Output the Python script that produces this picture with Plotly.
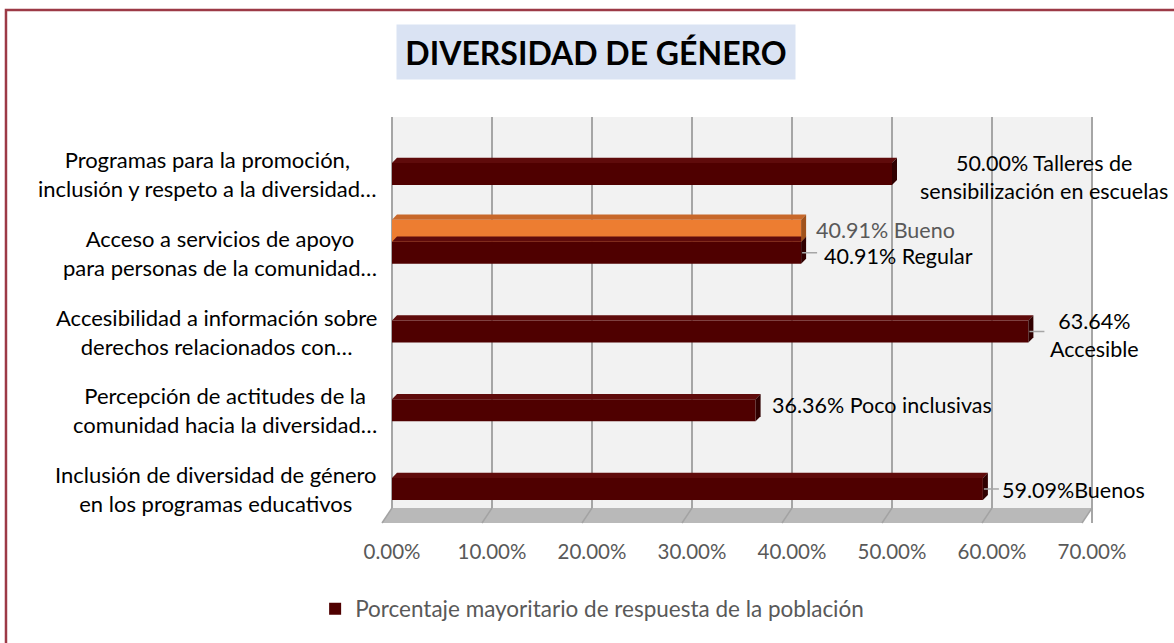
import plotly.graph_objects as go

# categories listed from top to bottom as drawn
categories = [
    "Programas para la promoción,<br>inclusión y respeto a la diversidad…",
    "Acceso a servicios de apoyo<br>para personas de la comunidad…",
    "Accesibilidad a información sobre<br>derechos relacionados con…",
    "Percepción de actitudes de la<br>comunidad hacia la diversidad…",
    "Inclusión de diversidad de género<br>en los programas educativos",
]
values = [50.00, 40.91, 63.64, 36.36, 59.09]
data_labels = [
    "50.00% Talleres de<br>sensibilización en escuelas",
    "40.91% Regular",
    "63.64%<br>Accesible",
    "36.36% Poco inclusivas",
    "59.09%Buenos",
]
series_name = "Porcentaje mayoritario de respuesta de la población"

# second (unnamed) value shown on the "Acceso a servicios" row
extra_category = 1
extra_value = 40.91
extra_label = "40.91% Bueno"

x_ticks = [0, 10, 20, 30, 40, 50, 60, 70]
x_tick_text = ["0.00%", "10.00%", "20.00%", "30.00%", "40.00%",
               "50.00%", "60.00%", "70.00%"]

# style / position helpers (pixels)
label_shift = [(26, -3), (21, -3), (20, -3), (14, 5), (17, -1)]
label_leader = [False, True, True, False, True]
label_align = ["center", "left", "center", "left", "left"]

FONT = "Lato, 'Open Sans', sans-serif"
DARK = "#4f0000"
DARK_TOP = "#5f0b0b"
DARK_SIDE = "#300000"
ORANGE = "#ed7d31"
ORANGE_TOP = "#c8682a"
ORANGE_SIDE = "#a0521c"

BAR_W = 0.28
DX = 0.5     # depth in x data units
DY = 0.065   # depth in y data units
FLOOR_H = 0.037

y_pos = list(range(len(categories)))

fig = go.Figure()


def add_3d_bar(fig, xs, ys, offset, front, top, side, name, showlegend):
    fig.add_trace(go.Bar(
        x=xs, y=ys, orientation="h", width=BAR_W, offset=offset,
        marker=dict(color=front, line=dict(width=0)),
        name=name, showlegend=showlegend, hoverinfo="skip",
    ))
    for v, c in zip(xs, ys):
        y_top = c + offset
        y_bot = c + offset + BAR_W
        fig.add_trace(go.Scatter(
            x=[0, v, v + DX, DX, 0],
            y=[y_top, y_top, y_top - DY, y_top - DY, y_top],
            fill="toself", fillcolor=top, mode="lines",
            line=dict(width=0, color=top), showlegend=False, hoverinfo="skip",
        ))
        fig.add_trace(go.Scatter(
            x=[v, v + DX, v + DX, v, v],
            y=[y_top, y_top - DY, y_bot - DY, y_bot, y_top],
            fill="toself", fillcolor=side, mode="lines",
            line=dict(width=0, color=side), showlegend=False, hoverinfo="skip",
        ))


add_3d_bar(fig, values, y_pos, -BAR_W / 2, DARK, DARK_TOP, DARK_SIDE,
           series_name, True)
add_3d_bar(fig, [extra_value], [y_pos[extra_category]], -BAR_W * 1.5,
           ORANGE, ORANGE_TOP, ORANGE_SIDE, "", False)

shapes = []
# back wall
shapes.append(dict(type="rect", xref="x", yref="y domain", x0=0, x1=70,
                   y0=FLOOR_H, y1=1, fillcolor="#f2f2f2", line_width=0,
                   layer="below"))
# floor
shapes.append(dict(type="path", xref="x", yref="y domain",
                   path=f"M 0,{FLOOR_H} L 70,{FLOOR_H} L 69,0 L -1,0 Z",
                   fillcolor="#b9b9b9", line=dict(width=0), layer="above"))
for t in x_ticks:
    shapes.append(dict(type="line", xref="x", yref="y domain",
                       x0=t, x1=t - 1, y0=FLOOR_H, y1=0,
                       line=dict(color="#a3a3a3", width=1.5), layer="above"))

annotations = []
# category labels
for cat, c in zip(categories, y_pos):
    annotations.append(dict(
        text=cat, xref="paper", yref="y", x=0, y=c, xanchor="right",
        yanchor="middle", align="center", showarrow=False, xshift=-1,
        font=dict(family=FONT, size=22, color="#000000"),
    ))
# data labels
for v, c, lab, (sx, sy), lead, al in zip(values, y_pos, data_labels,
                                          label_shift, label_leader, label_align):
    annotations.append(dict(
        text=lab, xref="x", yref="y", x=v, y=c, xanchor="left",
        yanchor="middle", align=al, showarrow=False, xshift=sx, yshift=sy,
        font=dict(family=FONT, size=21.5, color="#000000"),
    ))
    if lead:
        shapes.append(dict(type="line", xref="x", yref="y", x0=v + 0.1,
                           x1=v + 1.6, y0=c, y1=c,
                           line=dict(color="#a6a6a6", width=1.5)))
annotations.append(dict(
    text=extra_label, xref="x", yref="y", x=extra_value,
    y=y_pos[extra_category] - BAR_W, xanchor="left", yanchor="middle",
    showarrow=False, xshift=13, yshift=1,
    font=dict(family=FONT, size=21.5, color="#595959"),
))
# title box
annotations.append(dict(
    text="<b>DIVERSIDAD DE GÉNERO</b>", xref="paper", yref="paper",
    x=0.2983, y=1.160, xanchor="center", yanchor="middle", showarrow=False,
    bgcolor="#dae3f3", width=396, height=52,
    font=dict(family=FONT, size=32, color="#000000"),
))

# outer frame (left and top edges visible)
shapes.append(dict(type="path", xref="paper", yref="paper",
                   path="M -0.5166,-0.32 L -0.5166,1.2635 L 1.11,1.2635",
                   line=dict(color="#9c3a46", width=2.5)))

fig.update_layout(
    width=1174, height=643,
    margin=dict(l=380, r=70, t=117, b=120),
    paper_bgcolor="white", plot_bgcolor="white",
    barmode="overlay",
    font=dict(family=FONT, size=20, color="#595959"),
    shapes=shapes, annotations=annotations,
    showlegend=True,
    legend=dict(orientation="h", x=0.293, xanchor="center", y=-0.212,
                yanchor="middle", font=dict(family=FONT, size=22.5, color="#595959"),
                bgcolor="rgba(0,0,0,0)"),
)
fig.update_xaxes(
    range=[-1.2, 71.2], tickvals=x_ticks, ticktext=x_tick_text,
    showgrid=True, gridcolor="#a6a6a6", gridwidth=2, zeroline=False,
    showline=False, ticks="", ticklabelstandoff=14,
    tickfont=dict(family=FONT, size=20.5, color="#595959"),
    fixedrange=True,
)
fig.update_yaxes(
    range=[4.432, -0.724], showticklabels=False, showgrid=False,
    zeroline=False, showline=False, fixedrange=True,
)

fig.write_html(
    "out.html",
    config={"displayModeBar": False},
    post_script="document.body.style.margin='0';"
                "document.body.style.overflow='hidden';",
)
